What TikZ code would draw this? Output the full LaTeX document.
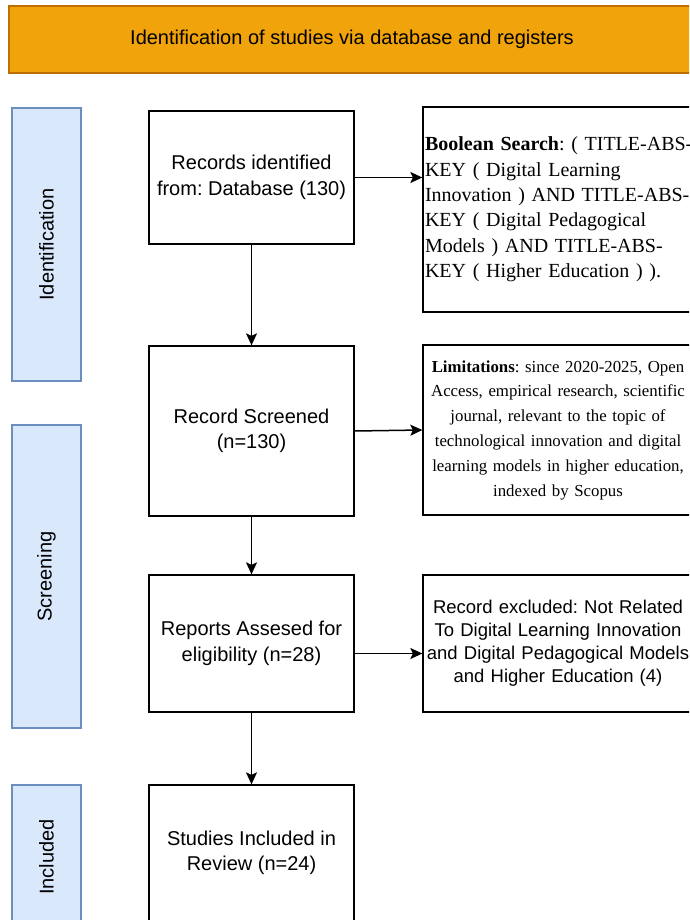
\documentclass[tikz,border=0pt]{standalone}
\usepackage{fontspec}
\setmainfont{Liberation Sans}
\newfontfamily\timesfont{Liberation Serif}
\usetikzlibrary{arrows.meta}
\frenchspacing

\definecolor{headfill}{HTML}{F0A30A}
\definecolor{headline}{HTML}{BD7000}
\definecolor{phasefill}{HTML}{DAE8FC}
\definecolor{phaseline}{HTML}{6C8EBF}

\begin{document}
\begin{tikzpicture}[x=1pt, y=-1pt,
    stepbox/.style={draw, line width=1.3pt, minimum width=205pt, align=center,
      inner sep=0pt, font=\fontsize{20}{25.5}\selectfont},
    notebox/.style={draw, line width=1.3pt, inner sep=0pt},
    phase/.style={draw=phaseline, fill=phasefill, line width=1.2pt, rotate=90,
      minimum height=69pt, font=\fontsize{20}{24}\selectfont},
    arr/.style={-{Stealth[length=12pt, width=11pt, inset=2.5pt]}, line width=1.5pt}]
    % Page size of the reference, right and bottom boxes run off it
    \useasboundingbox (0,0) rectangle (689,920);
    \clip (0,0) rectangle (689,920);

    % Header bar
    \node[draw=headline, fill=headfill, line width=1.2pt, minimum width=686pt,
      minimum height=67pt, font=\fontsize{20}{24}\selectfont]
      (hdr) at (352,39.5) {Identification of studies via database and registers};

    % Phase labels on the left
    \node[phase, minimum width=273pt] (ident) at (46.5,244.5) {Identification};
    \node[phase, minimum width=303pt] (screen) at (46.5,576.5) {Screening};
    \node[phase, minimum width=144pt] (incl) at (46.5,857) {Included};

    % Main column
    \node[stepbox, minimum height=133pt] (found) at (251.5,177.5)
      {Records identified\\from: Database (130)};
    \node[stepbox, minimum height=170pt] (screened) at (251.5,431)
      {Record Screened\\(n=130)};
    \node[stepbox, minimum height=137pt] (assessed) at (251.5,643.5)
      {Reports Assesed for\\eligibility (n=28)};
    \node[stepbox, minimum height=136pt] (included) at (251.5,853)
      {Studies Included in\\Review (n=24)};

    % Notes on the right
    \node[notebox, minimum height=205pt, text width=290pt, inner sep=2pt, align=left,
      font=\timesfont\fontsize{20}{25.4}\selectfont] (search) at (570,209.5)
      {\textbf{Boolean Search}: ( TITLE-ABS-\\KEY ( Digital Learning\\Innovation ) AND TITLE-ABS-\\KEY ( Digital Pedagogical\\Models ) AND TITLE-ABS-\\KEY ( Higher Education ) ).};
    \node[notebox, minimum height=170pt, text width=270pt, align=center,
      font=\timesfont\fontsize{16.8}{24.8}\selectfont] (limits) at (558,430)
      {\textbf{Limitations}: since 2020-2025, Open\\Access, empirical research, scientific\\journal, relevant to the topic of\\technological innovation and digital\\learning models in higher education,\\indexed by Scopus};
    \node[notebox, minimum height=137pt, text width=270pt, align=center,
      font=\fontsize{18.5}{23}\selectfont] (excluded) at (558,643.5)
      {Record excluded: Not Related\\To Digital Learning Innovation\\and Digital Pedagogical Models\\and Higher Education (4)};

    % Arrows
    \draw[arr] (found.south) -- (screened.north);
    \draw[arr] (screened.south) -- (assessed.north);
    \draw[arr] (assessed.south) -- (included.north);
    \draw[arr] (found.east) -- (found.east -| search.west);
    \draw[arr] (screened.east) -- (limits.west);
    \draw[arr] ([yshift=-10pt]assessed.east) -- ([yshift=-10pt]assessed.east -| excluded.west);
  \end{tikzpicture}
\end{document}
